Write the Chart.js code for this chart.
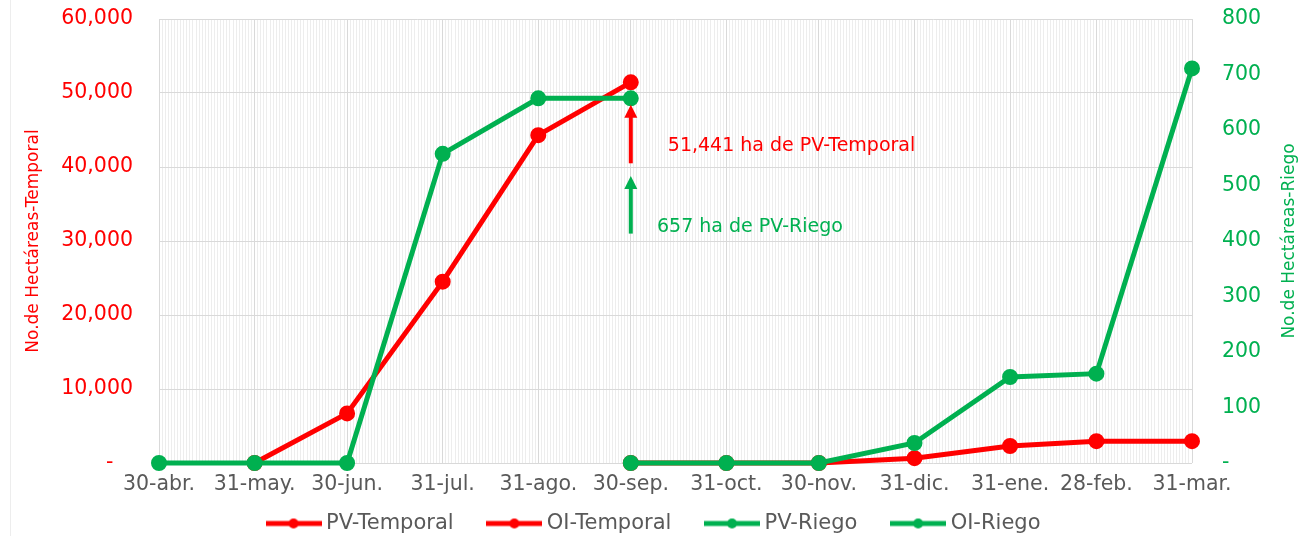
<!DOCTYPE html>
<html>
<head>
<meta charset="utf-8">
<script src="https://cdn.jsdelivr.net/npm/chart.js@4/dist/chart.umd.min.js"></script>
<style>
  html, body { margin: 0; padding: 0; background: #fff; }
  #wrap { width: 1312px; height: 536px; position: relative; }
</style>
</head>
<body>
<div id="wrap"><canvas id="hectChart"></canvas></div>
<script>
// Dates (days counted from 30-abr) and their labels
const dateLabels = ['30-abr.', '31-may.', '30-jun.', '31-jul.', '31-ago.', '30-sep.', '31-oct.', '30-nov.', '31-dic.', '31-ene.', '28-feb.', '31-mar.'];
const dayOffsets = [0, 31, 61, 92, 123, 153, 184, 214, 245, 276, 304, 335];

// Series (left axis: temporal, right axis: riego)
const pvTemporal = [null, 0, 6700, 24500, 44300, 51441, null, null, null, null, null, null];
const oiTemporal = [null, null, null, null, null, 0, 0, 0, 650, 2300, 2950, 2950];
const pvRiego = [0, 0, 0, 557, 657, 657, null, null, null, null, null, null];
const oiRiego = [null, null, null, null, null, 0, 0, 0, 36, 155, 161, 711];

// Axis tick values
const temporalTicks = [0, 10000, 20000, 30000, 40000, 50000, 60000];
const riegoTicks = [0, 100, 200, 300, 400, 500, 600, 700, 800];

const RED = '#ff0000';
const GREEN = '#00b050';

function toPoints(values) {
    return values.map((v, i) => ({ x: dayOffsets[i], y: v }));
}

// legend marker: a thick line with a dot in the middle
function legendMarker(color) {
    const c = document.createElement('canvas');
    c.width = 56;
    c.height = 12;
    const g = c.getContext('2d');
    g.strokeStyle = color;
    g.lineWidth = 5;
    g.beginPath();
    g.moveTo(0, 6);
    g.lineTo(56, 6);
    g.stroke();
    g.fillStyle = color;
    g.beginPath();
    g.arc(28, 6, 5, 0, Math.PI * 2);
    g.fill();
    return c;
}
const markers = { [RED]: legendMarker(RED), [GREEN]: legendMarker(GREEN) };

// arrows + notes next to 30-sep
const notes = [
    { text: '51,441 ha de PV-Temporal', color: RED, arrowFrom: 40500, arrowTo: 48400, textDay: 165, textY: 42800 },
    { text: '657 ha de PV-Riego', color: GREEN, arrowFrom: 31000, arrowTo: 38800, textDay: 161.5, textY: 31900 }
];

const notesPlugin = {
    id: 'notes',
    afterDatasetsDraw(chart) {
        const { ctx, scales } = chart;
        const x = scales.x.getPixelForValue(dayOffsets[5]);
        ctx.save();
        notes.forEach(n => {
            const y0 = scales.y.getPixelForValue(n.arrowFrom);
            const y1 = scales.y.getPixelForValue(n.arrowTo);
            ctx.strokeStyle = n.color;
            ctx.fillStyle = n.color;
            ctx.lineWidth = 4;
            ctx.beginPath();
            ctx.moveTo(x, y0);
            ctx.lineTo(x, y1 + 10);
            ctx.stroke();
            ctx.beginPath();
            ctx.moveTo(x, y1);
            ctx.lineTo(x - 6.5, y1 + 13);
            ctx.lineTo(x + 6.5, y1 + 13);
            ctx.closePath();
            ctx.fill();
            ctx.font = '19px "DejaVu Sans"';
            ctx.textAlign = 'left';
            ctx.textBaseline = 'middle';
            ctx.fillText(n.text, scales.x.getPixelForValue(n.textDay), scales.y.getPixelForValue(n.textY));
        });
        ctx.restore();
    }
};

// right axis title reads bottom-to-top like the left one
const rightTitlePlugin = {
    id: 'rightTitle',
    afterDraw(chart) {
        const { ctx, chartArea } = chart;
        ctx.save();
        ctx.translate(1290, (chartArea.top + chartArea.bottom) / 2);
        ctx.rotate(-Math.PI / 2);
        ctx.font = '17px "DejaVu Sans"';
        ctx.fillStyle = GREEN;
        ctx.textAlign = 'center';
        ctx.textBaseline = 'middle';
        ctx.fillText('No.de Hectáreas-Riego', 0, 0);
        ctx.restore();
    },
    beforeDraw(chart) {
        const { ctx } = chart;
        ctx.save();
        ctx.strokeStyle = '#ededed';
        ctx.lineWidth = 1;
        ctx.beginPath();
        ctx.moveTo(10.5, 0);
        ctx.lineTo(10.5, 536);
        ctx.stroke();
        ctx.restore();
    }
};

Chart.defaults.font.family = '"DejaVu Sans"';

const lineStyle = (color) => ({
    borderColor: color,
    backgroundColor: color,
    borderWidth: 5,
    pointRadius: 5.5,
    pointHoverRadius: 5.5,
    tension: 0,
    clip: false,
    spanGaps: false
});

// y axes: fixed width, no extra margin above/below the plot
const fitY = (width) => (axis) => {
    axis.width = width;
    axis.paddingTop = 0;
    axis.paddingBottom = 0;
};

new Chart(document.getElementById('hectChart'), {
    type: 'line',
    data: {
        datasets: [
            { label: 'PV-Temporal', data: toPoints(pvTemporal), yAxisID: 'y', order: 4, ...lineStyle(RED) },
            { label: 'OI-Temporal', data: toPoints(oiTemporal), yAxisID: 'y', order: 3, ...lineStyle(RED) },
            { label: 'PV-Riego', data: toPoints(pvRiego), yAxisID: 'y2', order: 2, ...lineStyle(GREEN) },
            { label: 'OI-Riego', data: toPoints(oiRiego), yAxisID: 'y2', order: 1, ...lineStyle(GREEN) }
        ]
    },
    options: {
        responsive: true,
        maintainAspectRatio: false,
        animation: false,
        layout: { padding: { top: 19, left: 0, right: 0, bottom: -8 } },
        scales: {
            x: {
                type: 'linear',
                min: 0,
                max: dayOffsets[dayOffsets.length - 1],
                afterBuildTicks: (axis) => {
                    // one grid line per day
                    const ticks = [];
                    for (let d = axis.min; d <= axis.max; d++) ticks.push({ value: d });
                    axis.ticks = ticks;
                },
                afterFit: (axis) => { axis.height = 38; },
                border: { display: false },
                grid: {
                    drawTicks: false,
                    color: (ctx) => dayOffsets.includes(ctx.tick && ctx.tick.value) ? '#d9d9d9' : '#ededed',
                    lineWidth: 1
                },
                ticks: {
                    autoSkip: false,
                    maxRotation: 0,
                    padding: 9,
                    color: '#595959',
                    font: { size: 20.5 },
                    callback: (value) => {
                        const i = dayOffsets.indexOf(value);
                        return i >= 0 ? dateLabels[i] : '';
                    }
                }
            },
            y: {
                position: 'left',
                min: 0,
                max: 60000,
                afterBuildTicks: (axis) => { axis.ticks = temporalTicks.map(v => ({ value: v })); },
                afterFit: fitY(159),
                border: { display: false },
                grid: { drawTicks: false, color: '#d9d9d9' },
                ticks: {
                    padding: 26,
                    color: RED,
                    font: { size: 20.5 },
                    callback: (v) => v === 0 ? '-   ' : v.toLocaleString('en-US')
                },
                title: {
                    display: true,
                    text: 'No.de Hectáreas-Temporal',
                    color: RED,
                    font: { size: 17 },
                    padding: { top: 23, bottom: 0 }
                }
            },
            y2: {
                position: 'right',
                min: 0,
                max: 800,
                afterBuildTicks: (axis) => { axis.ticks = riegoTicks.map(v => ({ value: v })); },
                afterFit: fitY(120),
                border: { display: false },
                grid: { drawOnChartArea: false, drawTicks: false },
                ticks: {
                    padding: 30,
                    color: GREEN,
                    font: { size: 20.5 },
                    callback: (v) => v === 0 ? '-' : String(v)
                }
            }
        },
        plugins: {
            tooltip: { enabled: false },
            legend: {
                position: 'bottom',
                labels: {
                    usePointStyle: true,
                    pointStyleWidth: 44,
                    boxHeight: 12,
                    padding: 12,
                    color: '#595959',
                    font: { size: 21 },
                    generateLabels: (chart) => {
                        const items = Chart.defaults.plugins.legend.labels.generateLabels(chart);
                        items.sort((a, b) => a.datasetIndex - b.datasetIndex);
                        items.forEach((item, i) => {
                            item.pointStyle = markers[item.strokeStyle];
                            // extra room between entries
                            if (i < items.length - 1) item.text += '    ';
                        });
                        return items;
                    }
                }
            }
        }
    },
    plugins: [notesPlugin, rightTitlePlugin]
});
</script>
</body>
</html>
